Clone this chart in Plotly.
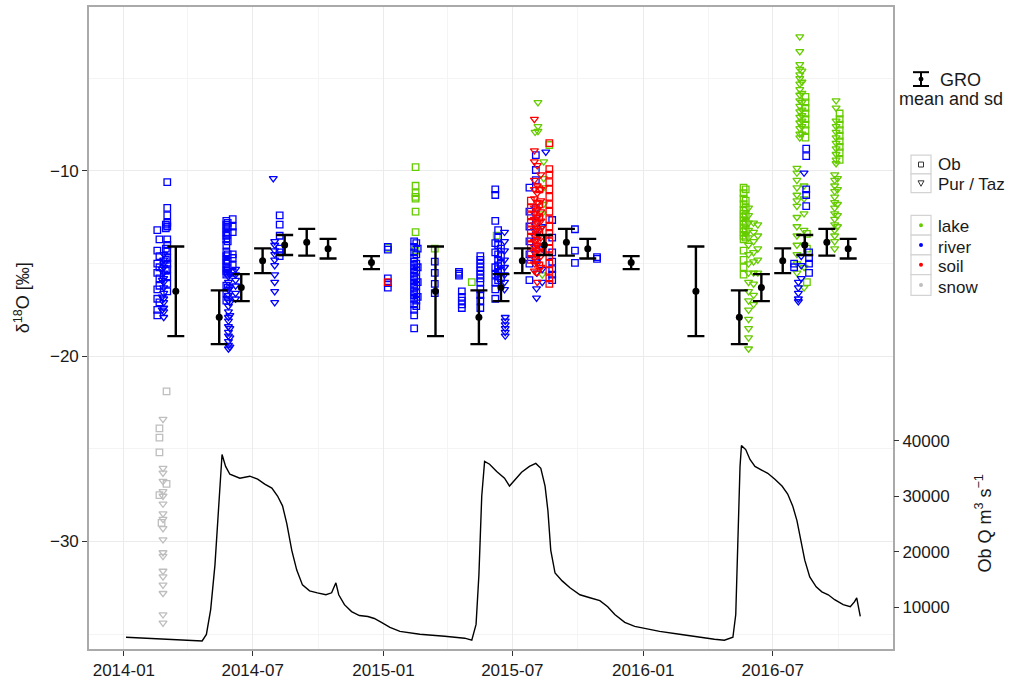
import plotly.graph_objects as go
from datetime import date

# ---------------- data ----------------
# Ob discharge (m3/s)
q_dates = ["2014-01-04", "2014-02-06", "2014-03-20", "2014-04-21", "2014-04-27", "2014-05-03",
           "2014-05-09", "2014-05-14", "2014-05-19", "2014-05-24", "2014-05-30", "2014-06-13",
           "2014-06-27", "2014-07-08", "2014-07-18", "2014-07-28", "2014-08-05", "2014-08-12",
           "2014-08-18", "2014-08-25", "2014-09-01", "2014-09-09", "2014-09-19", "2014-09-30",
           "2014-10-12", "2014-10-20", "2014-10-26", "2014-10-30", "2014-11-07", "2014-11-17",
           "2014-11-28", "2014-12-10", "2014-12-19", "2014-12-29", "2015-01-10", "2015-01-24",
           "2015-02-21", "2015-03-28", "2015-04-25", "2015-05-05", "2015-05-11", "2015-05-15",
           "2015-05-19", "2015-05-23", "2015-05-30", "2015-06-09", "2015-06-20", "2015-06-27",
           "2015-07-04", "2015-07-14", "2015-07-25", "2015-08-03", "2015-08-10", "2015-08-16",
           "2015-08-20", "2015-08-24", "2015-08-30", "2015-09-09", "2015-09-20", "2015-10-04",
           "2015-10-18", "2015-11-01", "2015-11-12", "2015-11-22", "2015-12-06", "2015-12-20",
           "2016-01-03", "2016-01-24", "2016-02-21", "2016-03-20", "2016-04-10", "2016-04-24",
           "2016-05-06", "2016-05-10", "2016-05-13", "2016-05-16", "2016-05-18", "2016-05-24",
           "2016-05-30", "2016-06-06", "2016-06-16", "2016-06-24", "2016-07-04", "2016-07-14",
           "2016-07-22", "2016-07-29", "2016-08-04", "2016-08-09", "2016-08-15", "2016-08-22",
           "2016-08-31", "2016-09-08", "2016-09-17", "2016-09-26", "2016-10-08", "2016-10-18",
           "2016-10-24", "2016-10-27", "2016-10-30", "2016-11-01"]
q_vals = [4580, 4400, 4230, 3920, 5100, 9570,
          17600, 28300, 37560, 35400, 34000, 33280,
          33640, 33100, 32200, 31500, 30070, 28290,
          25080, 20270, 16700, 14030, 12960, 12600,
          12250, 12600, 14400, 12250, 10460, 9210,
          8500, 8330, 7970, 7260, 6370, 5650,
          5120, 4760, 4410, 4050, 6900, 15800,
          30070, 36300, 35800, 34500, 33280, 31860,
          32900, 34350, 35400, 35950, 35070, 31860,
          27400, 20270, 16170, 14750, 13500, 12250,
          11710, 11180, 10100, 8680, 7260, 6550,
          6190, 5650, 5120, 4580, 4230, 4050,
          4580, 8680, 21160, 35420, 39160, 38450,
          36670, 35420, 34710, 34170, 33100, 31860,
          30430, 28290, 25620, 22050, 18490, 15460,
          13680, 12780, 12250, 11350, 10460, 10100,
          11000, 11700, 9800, 8330]

# GRO monthly mean and sd of d18O (repeated every year)
gro_months = [3, 5, 6, 7, 8, 9, 10, 12]
gro_mean = [-16.5, -17.9, -16.3, -14.85, -14.0, -13.85, -14.2, -14.95]
gro_sd = [2.42, 1.45, 0.73, 0.67, 0.54, 0.72, 0.53, 0.35]
gro_years = [2014, 2015, 2016]
gro_last = "2016-10-31"

# samples: (date, [d18O values])
lake_ob = [
    ("2015-01-07", [-14.15]),
    ("2015-02-15", [-9.8, -10.8, -11.2, -11.4, -11.5, -12.2, -13.3, -14.3]),
    ("2015-03-14", [-14.2]),
    ("2015-05-05", [-16.0]),
    ("2015-06-09", [-13.5]),
    ("2015-08-22", [-8.6]),
    ("2016-05-21", [-10.9, -11.2, -11.5, -11.8, -12.1, -12.3, -12.5, -12.7, -12.9, -13.1, -13.3,
                    -13.5, -13.7, -14.3, -14.8, -15.2, -15.6]),
    ("2016-05-24", [-11.0, -11.6, -12.0, -12.4, -12.8, -13.2, -13.6]),
    ("2016-08-16", [-6.0, -6.3, -6.6, -6.9, -7.2, -7.5, -7.8, -8.2]),
    ("2016-08-18", [-13.4, -14.2, -16.0]),
    ("2016-10-03", [-6.9, -7.2, -7.5, -7.8, -8.1, -8.4, -8.7, -9.0, -9.4]),
]
lake_pt = [
    ("2015-08-02", [-7.9]),
    ("2015-08-06", [-6.3, -7.6, -7.85]),
    ("2015-08-12", [-12.3, -13.0, -15.6]),
    ("2015-08-14", [-9.5, -10.4, -10.9, -11.8]),
    ("2016-05-28", [-12.0, -12.4, -12.8, -13.2, -13.6, -14.0, -14.5, -15.0, -15.5, -16.0, -16.5,
                    -17.0, -17.5, -18.0, -18.5, -19.0, -19.6]),
    ("2016-06-04", [-12.8, -13.3, -13.8, -14.4, -14.9, -15.5, -16.1, -16.7, -17.2]),
    ("2016-06-10", [-12.9, -13.5, -14.2, -14.8, -15.5]),
    ("2016-08-04", [-9.85, -10.1, -10.5, -10.9, -11.3, -11.6, -11.9, -12.5, -13.0, -13.5, -14.0,
                    -14.5, -15.0, -15.5]),
    ("2016-08-08", [-2.75, -3.55, -4.25, -4.5, -4.8, -5.0, -5.3, -5.6, -5.9, -6.2, -6.5, -6.8,
                    -7.1, -7.4, -7.7, -8.0, -8.2]),
    ("2016-08-11", [-4.6, -5.2, -5.8, -6.3, -6.7, -7.0, -7.3, -7.6, -8.0]),
    ("2016-08-14", [-10.8, -11.5, -12.3, -13.2, -14.0, -15.2, -16.3]),
    ("2016-09-26", [-10.2, -10.5, -10.8, -11.1, -11.4, -11.7, -12.0, -12.3, -12.6, -12.9, -13.2,
                    -13.5, -13.8, -14.2]),
    ("2016-09-28", [-6.2, -6.6, -7.3, -7.6, -7.9, -8.2, -8.5, -8.8, -9.1, -9.4, -9.6]),
    ("2016-09-30", [-10.4, -11.0, -11.8, -12.4, -13.0]),
]
river_ob = [
    ("2014-02-17", [-13.2, -14.3, -15.0, -15.5, -16.4, -16.9, -17.5, -17.8]),
    ("2014-02-20", [-13.7, -14.6, -15.2, -15.8, -16.2, -17.1]),
    ("2014-03-01", [-12.9, -13.1, -14.2, -14.8, -15.4]),
    ("2014-03-03", [-10.6, -12.0, -12.4, -12.8, -13.0, -13.7, -14.0, -14.3, -14.7, -15.0, -15.3,
                    -15.7, -16.1, -16.5]),
    ("2014-05-25", [-12.7, -12.9, -13.1, -13.3, -13.5, -13.7, -14.0, -14.4, -14.6, -14.8, -15.0,
                    -15.2, -15.4, -15.6, -16.2, -16.6, -17.0]),
    ("2014-05-27", [-12.8, -13.0, -13.4, -13.8, -14.5, -14.9, -15.3, -15.5, -16.3, -16.8]),
    ("2014-06-03", [-12.6, -13.0, -13.3, -14.5, -14.7, -15.1, -15.5]),
    ("2014-08-08", [-12.4, -12.9, -13.5, -14.2, -14.4, -14.6]),
    ("2015-01-07", [-14.1, -14.25, -15.8, -16.05, -16.3]),
    ("2015-02-13", [-13.8, -14.1, -14.4, -14.7, -14.9, -15.1, -15.3, -15.5, -15.7, -15.9, -16.1,
                    -16.3, -16.5, -16.7, -16.9, -17.2, -17.5, -17.8, -18.5]),
    ("2015-02-16", [-13.9, -14.5, -15.0, -15.4, -15.8, -16.2, -16.6, -17.0, -17.3]),
    ("2015-02-18", [-14.2, -15.2, -16.0, -16.8]),
    ("2015-03-14", [-14.9, -15.5, -16.1, -16.6]),
    ("2015-04-17", [-15.45, -15.55, -15.65]),
    ("2015-04-21", [-16.5, -16.8, -17.0, -17.2, -17.4]),
    ("2015-05-17", [-14.6, -14.8, -15.0, -15.2, -15.4, -15.6, -15.8, -16.0, -16.4, -16.7, -17.0,
                    -17.4]),
    ("2015-06-07", [-11.0, -11.3, -12.7, -13.9, -14.4, -15.2, -15.6, -16.0, -16.4, -16.9]),
    ("2015-06-11", [-13.2, -13.6, -14.0, -14.5, -14.8, -15.1, -15.3, -15.5, -15.7, -15.9]),
    ("2015-06-15", [-14.2, -14.6, -15.0, -15.4, -15.8]),
    ("2015-07-25", [-10.9, -12.2, -13.0, -13.8, -14.5, -15.0, -15.9]),
    ("2015-08-03", [-9.15, -9.95, -10.5, -12.0, -12.8, -13.5, -14.2, -14.8]),
    ("2015-08-26", [-12.65, -13.6, -14.4, -14.9, -15.3, -15.6, -15.9]),
    ("2015-09-27", [-13.15, -14.3, -14.96]),
    ("2015-10-28", [-14.65, -14.75]),
    ("2016-07-31", [-15.0, -15.2]),
    ("2016-08-17", [-8.8, -9.2, -11.0, -11.3, -11.9]),
    ("2016-08-21", [-14.4, -14.7, -15.0, -15.5]),
]
river_pt = [
    ("2014-02-24", [-15.3, -15.9, -16.8, -17.5]),
    ("2014-02-26", [-14.5, -14.8, -15.0, -15.2, -15.5, -15.8, -16.0, -16.3, -16.6, -16.9, -17.1,
                    -17.4, -17.6, -17.9]),
    ("2014-05-28", [-15.4, -15.7, -16.0, -16.4, -16.7, -17.0, -17.3, -17.6, -17.9, -18.1, -18.4,
                    -18.7, -18.9, -19.2, -19.4, -19.6]),
    ("2014-05-30", [-15.6, -16.3, -17.1, -17.8, -18.5, -19.0, -19.5]),
    ("2014-06-07", [-15.3, -15.6, -15.9, -16.2, -16.6, -16.9]),
    ("2014-07-30", [-10.4]),
    ("2014-08-01", [-13.8, -14.0, -14.3, -14.5, -14.8, -15.1, -15.6, -16.0, -16.5, -17.1]),
    ("2015-06-20", [-13.3, -13.8, -14.3, -14.8, -15.2, -15.6, -16.0, -16.4]),
    ("2015-06-21", [-17.9, -18.1, -18.3, -18.5, -18.7, -18.9]),
    ("2015-08-04", [-12.5, -13.2, -14.0, -14.9, -15.5, -16.35, -16.85]),
    ("2015-08-12", [-13.0, -14.2, -15.3, -16.0]),
    ("2015-08-17", [-8.97]),
    ("2016-08-06", [-16.0, -16.3, -16.6, -16.9, -17.05]),
    ("2016-08-10", [-14.6, -15.1, -15.8]),
    ("2016-08-14", [-10.1]),
]
soil_ob = [
    ("2015-01-07", [-16.0]),
    ("2015-07-27", [-11.6, -12.0, -12.4, -12.8, -13.2, -13.6, -14.0, -14.4, -14.8]),
    ("2015-08-08", [-11.0, -11.8, -12.5, -13.3, -14.2, -15.1]),
    ("2015-08-22", [-8.5, -9.9, -10.2, -10.6, -11.0, -11.4, -11.8, -12.2, -12.6, -13.0, -13.4,
                    -13.8, -14.2, -14.6, -15.0, -15.4, -15.8, -16.1]),
]
soil_pt = [
    ("2015-08-01", [-7.2, -8.9, -9.5, -10.5, -11.0, -11.5, -12.0, -12.3, -12.6, -12.9, -13.2,
                    -13.5, -13.8, -14.1, -14.4, -14.7, -15.0, -15.4]),
    ("2015-08-05", [-9.7, -10.8, -11.2, -11.7, -12.1, -12.5, -12.8, -13.1, -13.4, -13.7, -14.0,
                    -14.3, -14.6, -15.0, -15.5, -16.0]),
    ("2015-08-10", [-10.2, -11.0, -11.6, -12.2, -12.7, -13.1, -13.6, -14.1, -14.6, -15.2]),
]
snow_ob = [
    ("2014-02-20", [-23.9, -24.4, -25.2, -27.5]),
    ("2014-02-23", [-29.0]),
    ("2014-03-02", [-21.9, -26.9]),
]
snow_pt = [
    ("2014-02-25", [-23.4, -26.05, -26.3, -26.75, -27.3, -27.55, -27.97, -28.5, -28.8, -29.3,
                    -29.9, -30.6, -30.8, -31.6, -31.9, -32.35, -32.8, -33.95, -34.4]),
]

type_colors = {"lake": "#66CC00", "river": "#0000FF", "soil": "#FF0000", "snow": "#BEBEBE"}
x_ticks = ["2014-01-01", "2014-07-01", "2015-01-01", "2015-07-01", "2016-01-01", "2016-07-01"]
x_ticktext = ["2014-01", "2014-07", "2015-01", "2015-07", "2016-01", "2016-07"]
x_minor = ["2014-04-01", "2014-10-01", "2015-04-01", "2015-10-01", "2016-04-01", "2016-10-01"]

# ---------------- figure ----------------
L, R, T, B = 89, 893, 5, 655
W, H = 1009, 685


def px(x):
    return (x - L) / (R - L)


def py(y):
    return 1 - (y - T) / (B - T)


def expand(groups):
    xs, ys = [], []
    for d, vals in groups:
        for v in vals:
            xs.append(d)
            ys.append(v)
    return xs, ys


fig = go.Figure()

# discharge line
fig.add_trace(go.Scatter(x=q_dates, y=q_vals, yaxis="y2", mode="lines",
                         line=dict(color="black", width=1.4), hoverinfo="skip"))

series = [("lake", lake_ob, lake_pt), ("river", river_ob, river_pt),
          ("soil", soil_ob, soil_pt), ("snow", snow_ob, snow_pt)]
for name, ob, pt in series:
    c = type_colors[name]
    xs, ys = expand(ob)
    fig.add_trace(go.Scatter(x=xs, y=ys, mode="markers", name=name + " Ob",
                             marker=dict(symbol="square-open", size=6.5, color=c,
                                         line=dict(color=c, width=1.3))))
    xs, ys = expand(pt)
    fig.add_trace(go.Scatter(x=xs, y=ys, mode="markers", name=name + " Pur/Taz",
                             marker=dict(symbol="triangle-down-open", size=7, color=c,
                                         line=dict(color=c, width=1.3))))

# GRO mean and sd
gx, gy, gs = [], [], []
for yr in gro_years:
    for m, mu, sd in zip(gro_months, gro_mean, gro_sd):
        d = date(yr, m, 15).isoformat()
        if d <= gro_last:
            gx.append(d)
            gy.append(mu)
            gs.append(sd)
fig.add_trace(go.Scatter(x=gx, y=gy, mode="markers",
                         marker=dict(color="black", size=7, symbol="circle"),
                         error_y=dict(type="data", array=gs, visible=True, color="black",
                                      thickness=2.4, width=8.5)))

tick_font = dict(family="Liberation Sans, Arial, sans-serif", size=17, color="#1a1a1a")
fig.update_layout(
    width=W, height=H,
    margin=dict(l=L, r=W - R, t=T, b=H - B),
    plot_bgcolor="white", paper_bgcolor="white",
    showlegend=False,
    font=dict(family="Liberation Sans, Arial, sans-serif", color="#1a1a1a"),
    xaxis=dict(type="date", range=["2013-11-13", "2016-12-17"],
               tickmode="array", tickvals=x_ticks, ticktext=x_ticktext,
               ticks="outside", ticklen=5, tickwidth=1, tickcolor="#333333",
               showgrid=True, gridcolor="#EBEBEB", gridwidth=1,
               minor=dict(tickmode="array", tickvals=x_minor, showgrid=True,
                          gridcolor="#F4F4F4", gridwidth=1, ticks=""),
               showline=True, linecolor="#AAAAAA", linewidth=1.6, mirror=True,
               zeroline=False, tickfont=tick_font),
    yaxis=dict(range=[-35.81, -1.15], tickmode="array", tickvals=[-30, -20, -10],
               ticktext=["\u221230", "\u221220", "\u221210"],
               ticks="outside", ticklen=5, tickwidth=1, tickcolor="#333333",
               showgrid=True, gridcolor="#EBEBEB", gridwidth=1,
               minor=dict(tickmode="array", tickvals=[-35, -25, -15, -5], showgrid=True,
                          gridcolor="#F4F4F4", gridwidth=1, ticks=""),
               showline=True, linecolor="#AAAAAA", linewidth=1.6, mirror=True,
               zeroline=False, tickfont=tick_font),
    yaxis2=dict(overlaying="y", side="right", range=[2460, 118310],
                tickmode="array", tickvals=[10000, 20000, 30000, 40000],
                ticktext=["10000", "20000", "30000", "40000"],
                ticks="outside", ticklen=5, tickwidth=1, tickcolor="#333333",
                showgrid=False, zeroline=False, showline=False, tickfont=tick_font),
)

txt = dict(size=17, color="#1a1a1a")
ann = []
ann.append(dict(x=px(22), y=py(300), xref="paper", yref="paper",
                text="\u03b4<sup>18</sup>O [\u2030]", xanchor="center", yanchor="middle",
                textangle=-90, showarrow=False, font=dict(size=18, color="#1a1a1a")))
ann.append(dict(x=px(984), y=py(528), xref="paper", yref="paper",
                text="Ob Q m<sup>3</sup> s<sup>\u22121</sup>", xanchor="center", yanchor="middle",
                textangle=-90, showarrow=False, font=dict(size=18, color="#1a1a1a")))
ann.append(dict(x=px(938), y=py(79), xref="paper", yref="paper", text="GRO",
                xanchor="left", yanchor="middle", showarrow=False,
                font=dict(size=18, color="#1a1a1a")))
ann.append(dict(x=px(950.5), y=py(98), xref="paper", yref="paper", text="mean and sd",
                xanchor="center", yanchor="middle", showarrow=False,
                font=dict(size=18, color="#1a1a1a")))
for label, yy in [("Ob", 164), ("Pur / Taz", 185), ("lake", 227), ("river", 248),
                  ("soil", 268), ("snow", 289)]:
    ann.append(dict(x=px(936), y=py(yy), xref="paper", yref="paper", text=label,
                    xanchor="left", yanchor="middle", showarrow=False, font=txt))

shapes = []
# GRO icon
kc = "black"
shapes.append(dict(type="line", xref="paper", yref="paper", x0=px(921), x1=px(921),
                   y0=py(71), y1=py(85), line=dict(color=kc, width=2)))
for yy in (71, 85):
    shapes.append(dict(type="line", xref="paper", yref="paper", x0=px(913), x1=px(929),
                       y0=py(yy), y1=py(yy), line=dict(color=kc, width=2)))
shapes.append(dict(type="circle", xref="paper", yref="paper", x0=px(918.5), x1=px(923.5),
                   y0=py(75.5), y1=py(80.5), fillcolor=kc, line=dict(width=0)))
# key boxes
for y0, y1 in [(155, 174), (174, 193), (216, 236), (236, 256), (256, 276), (276, 297)]:
    shapes.append(dict(type="rect", xref="paper", yref="paper", x0=px(911), x1=px(931),
                       y0=py(y0), y1=py(y1), line=dict(color="#D3D3D3", width=1.2),
                       fillcolor="white"))
# shape keys
shapes.append(dict(type="rect", xref="paper", yref="paper", x0=px(918.5), x1=px(923.5),
                   y0=py(162), y1=py(167), line=dict(color="#333333", width=1)))
tri = "M {} {} L {} {} L {} {} Z".format(px(918), py(181), px(924), py(181), px(921), py(186.5))
shapes.append(dict(type="path", xref="paper", yref="paper", path=tri,
                   line=dict(color="#333333", width=1)))
# colour keys
for name, yy in [("lake", 226), ("river", 246), ("soil", 266), ("snow", 286.5)]:
    shapes.append(dict(type="circle", xref="paper", yref="paper", x0=px(919), x1=px(923),
                       y0=py(yy - 2), y1=py(yy + 2), fillcolor=type_colors[name],
                       line=dict(width=0)))

fig.update_layout(annotations=ann, shapes=shapes)
fig.write_html("out.html", config={"displayModeBar": False},
               post_script="document.body.style.margin='0px';")
